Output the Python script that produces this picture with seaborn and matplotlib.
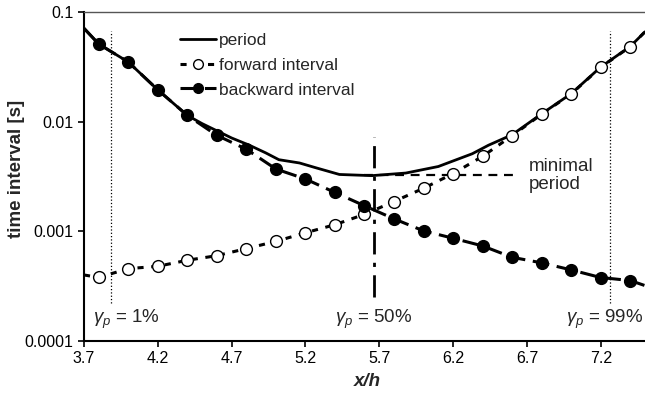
import numpy as np
import pandas as pd
import matplotlib
matplotlib.use("Agg")
import matplotlib.pyplot as plt
from matplotlib.lines import Line2D
from matplotlib.ticker import FixedLocator, FixedFormatter
import seaborn as sns

# ---- data ----
marker_x = [3.8, 4.0, 4.2, 4.4, 4.6, 4.8, 5.0, 5.2, 5.4, 5.6, 5.8, 6.0, 6.2, 6.4, 6.6, 6.8, 7.0, 7.2, 7.4]
forward_y = [0.00038, 0.000457, 0.00048, 0.000545, 0.0006, 0.000696, 0.00081, 0.00097, 0.00115, 0.00143,
             0.00187, 0.00247, 0.00336, 0.00483, 0.00745, 0.0117, 0.0179, 0.0313, 0.0483]
backward_y = [0.051, 0.035, 0.0195, 0.0114, 0.0075, 0.0056, 0.0037, 0.0030, 0.00226, 0.00171,
              0.0013, 0.00101, 0.000865, 0.000736, 0.00058, 0.000516, 0.000445, 0.000379, 0.000356]
line_end_x = [3.7, 7.5]
forward_end_y = [0.0004, 0.066]
backward_end_y = [0.071, 0.00032]

period_x = [3.7, 3.8, 4.0, 4.2, 4.4, 4.5, 4.7, 4.82, 4.93, 5.02, 5.16, 5.27, 5.43, 5.65, 5.88,
            6.1, 6.33, 6.44, 6.6, 6.8, 7.0, 7.2, 7.4, 7.5]
period_y = [0.071, 0.051, 0.035, 0.0195, 0.0114, 0.0096, 0.0071, 0.0061, 0.0052, 0.0045, 0.0042,
            0.0038, 0.0033, 0.00322, 0.0034, 0.0039, 0.0051, 0.0061, 0.0076, 0.0118, 0.018,
            0.0315, 0.0485, 0.066]

min_period = 0.00325
min_period_x = [5.6, 6.61]
gamma_x = [3.88, 5.666, 7.26]

xticks = [3.7, 4.2, 4.7, 5.2, 5.7, 6.2, 6.7, 7.2]
yticks = [0.0001, 0.001, 0.01, 0.1]
ytick_labels = ["0.0001", "0.001", "0.01", "0.1"]

# ---- figure ----
sns.set_style("ticks")
plt.rcParams["font.family"] = ["Liberation Sans", "DejaVu Sans"]
plt.rcParams["mathtext.fontset"] = "custom"
plt.rcParams["mathtext.it"] = "Liberation Sans:italic"
plt.rcParams["mathtext.rm"] = "Liberation Sans"

fig = plt.figure(figsize=(6.45, 3.94), dpi=100)
ax = fig.add_axes([84 / 645, 1 - 341 / 394, 1 - 84 / 645, (341 - 12) / 394])

fwd_line = pd.DataFrame({"x": [line_end_x[0]] + marker_x + [line_end_x[1]],
                         "y": [forward_end_y[0]] + forward_y + [forward_end_y[1]]})
bwd_line = pd.DataFrame({"x": [line_end_x[0]] + marker_x + [line_end_x[1]],
                         "y": [backward_end_y[0]] + backward_y + [backward_end_y[1]]})
per_line = pd.DataFrame({"x": period_x, "y": period_y})
mk = pd.DataFrame({"x": marker_x, "f": forward_y, "b": backward_y})

sns.lineplot(data=fwd_line, x="x", y="y", ax=ax, color="black", lw=2.2,
             sort=False, estimator=None, linestyle=(0, (2.0, 2.5)))
sns.lineplot(data=bwd_line, x="x", y="y", ax=ax, color="black", lw=2.2,
             sort=False, estimator=None, linestyle=(0, (5.5, 2.5)))
sns.lineplot(data=per_line, x="x", y="y", ax=ax, color="black", lw=2.0,
             sort=False, estimator=None)
sns.scatterplot(data=mk, x="x", y="f", ax=ax, s=72, color="white", edgecolor="black",
                linewidth=1.0, zorder=5)
sns.scatterplot(data=mk, x="x", y="b", ax=ax, s=72, color="black", edgecolor="black",
                linewidth=1.0, zorder=5)

# minimal period line
sns.lineplot(x=min_period_x, y=[min_period, min_period], ax=ax, color="black", lw=1.6,
             linestyle=(0, (4, 3)))
# vertical markers
ax.vlines(gamma_x[1], 0.000254, 0.0073, color="black", lw=2.0, linestyles=[(0, (8, 3, 1.5, 3))])
ax.vlines([gamma_x[0], gamma_x[2]], 0.000224, 0.067, color="black", lw=0.9, linestyles=":")

ax.set_yscale("log")
ax.set_xlim(3.7, 7.5)
ax.set_ylim(0.0001, 0.1)
ax.xaxis.set_major_locator(FixedLocator(xticks))
ax.set_xticklabels([f"{v:.1f}" for v in xticks])
ax.yaxis.set_major_locator(FixedLocator(yticks))
ax.yaxis.set_major_formatter(FixedFormatter(ytick_labels))
ax.yaxis.set_minor_locator(FixedLocator([]))
ax.tick_params(axis="both", labelsize=11.5, direction="out", length=4, width=1.2, colors="black")
for s in ["left", "bottom", "top"]:
    ax.spines[s].set_color("black")
ax.spines["left"].set_linewidth(1.5)
ax.spines["bottom"].set_linewidth(1.5)
ax.spines["top"].set_linewidth(1.0)
ax.spines["top"].set_color("#555555")
ax.spines["right"].set_visible(False)

ax.set_xlabel("x/h", fontsize=13.5, fontweight="bold", style="italic")
ax.xaxis.set_label_coords((367 - 84) / 561, -(382 - 341) / 329, transform=ax.transAxes)
ax.xaxis.label.set_va("center")
ax.set_ylabel("time interval [s]", fontsize=13.5, fontweight="bold")
ax.yaxis.set_label_coords(-(84 - 17) / 561, (341 - 169) / 329, transform=ax.transAxes)
ax.yaxis.label.set_va("center")

# gamma labels
gy = 0.000158
ax.text(3.76, gy, r"$\gamma_p$ = 1%", fontsize=13.5, va="center", ha="left")
ax.text(5.66, gy, r"$\gamma_p$ = 50%", fontsize=13.5, va="center", ha="center")
ax.text(7.49, gy, r"$\gamma_p$ = 99%", fontsize=13.5, va="center", ha="right")
ax.text(6.71, min_period, "minimal\nperiod", fontsize=13.5, va="center", ha="left", linespacing=1.05)

handles = [
    Line2D([], [], color="black", lw=2.0),
    Line2D([], [], color="black", lw=2.2, linestyle=(0, (2.0, 2.5)), marker="o",
           markerfacecolor="white", markeredgecolor="black", markersize=7),
    Line2D([], [], color="black", lw=2.2, linestyle=(0, (5.5, 2.5)), marker="o",
           markerfacecolor="black", markeredgecolor="black", markersize=7),
]
leg = ax.legend(handles, ["period", "forward interval", "backward interval"],
                loc="upper left", bbox_to_anchor=(180 / 645, 1 - 33 / 394),
                bbox_transform=fig.transFigure, frameon=False, fontsize=12.5,
                handlelength=2.1, handletextpad=0.15, labelspacing=0.55, borderaxespad=0,
                borderpad=0)

fig.savefig("out.png", dpi=100)
